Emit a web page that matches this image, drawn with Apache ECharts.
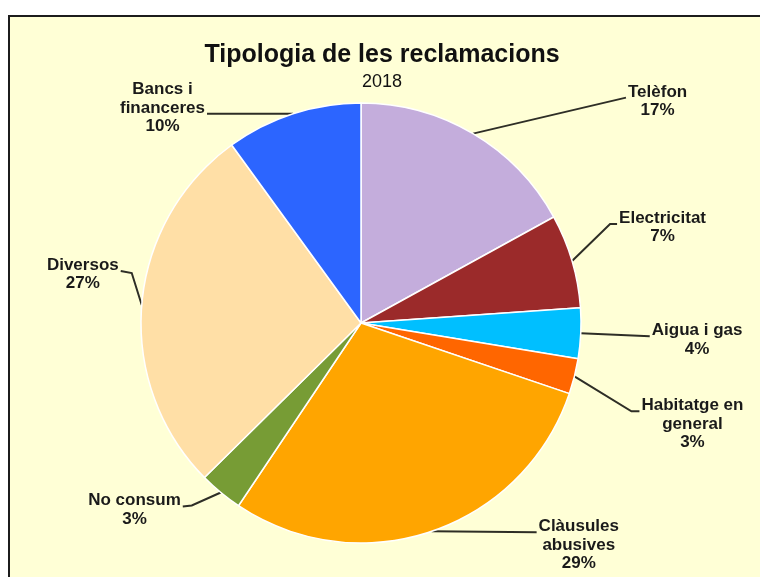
<!DOCTYPE html>
<html>
<head>
<meta charset="utf-8">
<script src="https://cdn.jsdelivr.net/npm/echarts@6/dist/echarts.min.js"></script>
<style>
  html, body { margin: 0; padding: 0; background: #ffffff; }
  #frame { position: absolute; left: 8px; top: 15px; width: 800px; height: 620px;
           border: 2px solid #1c1c1c; background: #FFFFD6; }
  #chart { position: absolute; left: 0; top: 0; width: 760px; height: 577px; }
</style>
</head>
<body>
<div id="frame"></div>
<div id="chart"></div>
<script>
// ---- data ----
const categories = ['Telèfon', 'Electricitat', 'Aigua i gas', 'Habitatge en\ngeneral',
                    'Clàusules\nabusives', 'No consum', 'Diversos', 'Bancs i\nfinanceres'];
const shares = [17.0, 6.9, 3.7, 2.6, 29.2, 3.2, 27.4, 10.0];
const titleText = 'Tipologia de les reclamacions';
const subtitleText = '2018';

// ---- styling / layout ----
const colors = ['#C4ADDC', '#9B2A2A', '#00BFFF', '#FF6600', '#FFA500', '#779C35', '#FFDFA6', '#2C65FF'];
// connector geometry relative to the slice anchor on the rim
const guides = [
  { end: [153, -36], side: 'right', line: 0 },
  { elbow: [38, -37], end: [45, -37], side: 'right', line: 0 },
  { end: [69, 3], side: 'right', line: 0 },
  { elbow: [57, 35], end: [65, 35], side: 'right', line: 0 },
  { end: [105, 1], side: 'right', line: 0 },
  { elbow: [-29, 13], end: [-38, 14], side: 'left', line: 0 },
  { elbow: [-10, -32], end: [-21, -34], side: 'left', line: 0 },
  { end: [-86, 0], side: 'left', line: 1 }
];
const LH = 18.5, BASE = 15, GAP = 2;

const chart = echarts.init(document.getElementById('chart'));
chart.setOption({
  animation: false,
  backgroundColor: 'transparent',
  title: [
    { text: titleText, left: 377, textAlign: 'center', top: 38,
      textStyle: { fontFamily: 'Liberation Sans, Arial, sans-serif', fontSize: 25, fontWeight: 'bold', color: '#111' } },
    { text: subtitleText, left: 377, textAlign: 'center', top: 68,
      textStyle: { fontFamily: 'Liberation Sans, Arial, sans-serif', fontSize: 18, fontWeight: 'normal', color: '#111' } }
  ],
  series: [{
    type: 'pie',
    center: [361, 323],
    radius: 220,
    startAngle: 90,
    clockwise: true,
    percentPrecision: 0,
    avoidLabelOverlap: false,
    emphasis: { disabled: true },
    itemStyle: { borderColor: '#ffffff', borderWidth: 1.5 },
    label: {
      show: true,
      position: 'outside',
      formatter: '{b}\n{d}%',
      fontFamily: 'Liberation Sans, Arial, sans-serif',
      fontSize: 17,
      fontWeight: 'bold',
      lineHeight: LH,
      color: '#1a1a1a'
    },
    labelLine: { show: true, length: 10, length2: 10, lineStyle: { color: '#2e2e26', width: 2 } },
    labelLayout: function (p) {
      const g = guides[p.dataIndex];
      const a0 = p.labelLinePoints[0];
      const a = [a0[0], a0[1]];
      const end = [a[0] + g.end[0], a[1] + g.end[1]];
      const pts = g.elbow ? [a, [a[0] + g.elbow[0], a[1] + g.elbow[1]], end] : [a, end];
      const w = p.labelRect.width;
      const cx = g.side === 'right' ? end[0] + GAP + w / 2 : end[0] - GAP - w / 2;
      const top = end[1] - BASE - g.line * LH;
      return { x: cx, y: top, align: 'center', verticalAlign: 'top', labelLinePoints: pts };
    },
    data: categories.map((c, i) => ({ name: c, value: shares[i], itemStyle: { color: colors[i] } }))
  }]
});
</script>
</body>
</html>
